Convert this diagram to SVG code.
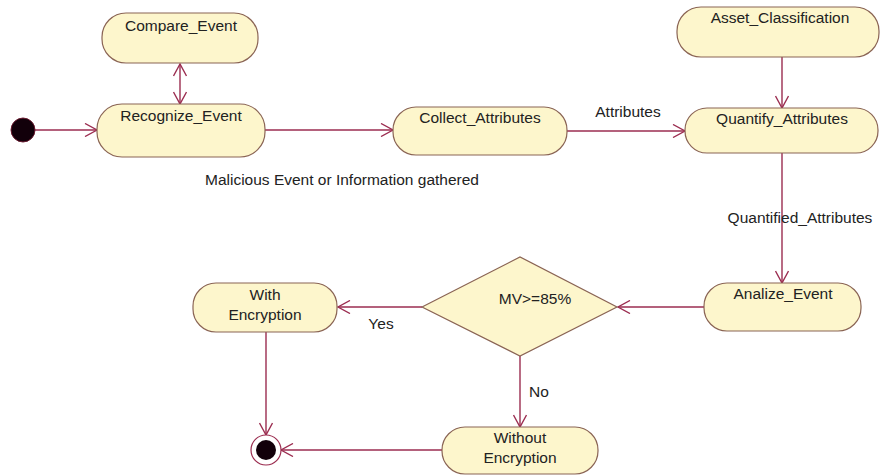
<svg xmlns="http://www.w3.org/2000/svg" width="880" height="475" viewBox="0 0 880 475">
<defs>
<style>
.node{fill:#fdf6cc;stroke:#8a6454;stroke-width:1.2}
.lbl{font-family:"Liberation Sans",Arial,sans-serif;font-size:15.5px;fill:#222;text-anchor:middle}
.edge{stroke:#9b2d50;stroke-width:1.4;fill:none}
</style>
<marker id="arr" markerWidth="14" markerHeight="14" refX="13" refY="7" orient="auto" markerUnits="userSpaceOnUse">
<path d="M1,0.5 L13,7 L1,13.5" fill="none" stroke="#9b2d50" stroke-width="1.4"/>
</marker>
<marker id="arrS" markerWidth="14" markerHeight="14" refX="13" refY="7" orient="auto-start-reverse" markerUnits="userSpaceOnUse">
<path d="M1,0.5 L13,7 L1,13.5" fill="none" stroke="#9b2d50" stroke-width="1.4"/>
</marker>
</defs>
<rect width="880" height="475" fill="#ffffff"/>
<g id="connectors">
<line class="edge" x1="35" y1="130" x2="97" y2="130" marker-end="url(#arr)"/>
<line class="edge" x1="180" y1="64" x2="180" y2="104" marker-start="url(#arrS)" marker-end="url(#arr)"/>
<line class="edge" x1="265" y1="130" x2="393" y2="130" marker-end="url(#arr)"/>
<line class="edge" x1="567" y1="131" x2="685" y2="131" marker-end="url(#arr)"/>
<line class="edge" x1="782" y1="57" x2="782" y2="108" marker-end="url(#arr)"/>
<line class="edge" x1="782" y1="153" x2="782" y2="283" marker-end="url(#arr)"/>
<line class="edge" x1="704" y1="307" x2="618" y2="307" marker-end="url(#arr)"/>
<line class="edge" x1="422" y1="307" x2="338" y2="307" marker-end="url(#arr)"/>
<line class="edge" x1="266" y1="332" x2="266" y2="435" marker-end="url(#arr)"/>
<line class="edge" x1="520" y1="356" x2="520" y2="427" marker-end="url(#arr)"/>
<line class="edge" x1="442" y1="450" x2="281" y2="450" marker-end="url(#arr)"/>
<text class="lbl" x="342" y="185">Malicious Event or Information gathered</text>
<text class="lbl" x="628" y="117">Attributes</text>
<text class="lbl" x="800" y="223">Quantified_Attributes</text>
<text class="lbl" x="381" y="329">Yes</text>
<text class="lbl" x="539" y="397">No</text>
</g>
<g id="initial">
<circle cx="23" cy="130" r="12" fill="#12000a" stroke="#6a1a30" stroke-width="1"/>
</g>
<g id="compare_event">
<rect class="node" x="102" y="13" width="156" height="50" rx="24" ry="24"/>
<text class="lbl" x="181" y="31">Compare_Event</text>
</g>
<g id="recognize_event">
<rect class="node" x="97" y="104" width="168" height="53" rx="25" ry="25"/>
<text class="lbl" x="181" y="121">Recognize_Event</text>
</g>
<g id="collect_attributes">
<rect class="node" x="393" y="107" width="174" height="48" rx="23" ry="23"/>
<text class="lbl" x="480" y="123">Collect_Attributes</text>
</g>
<g id="asset_classification">
<rect class="node" x="677" y="7" width="202" height="50" rx="24" ry="24"/>
<text class="lbl" x="780" y="23">Asset_Classification</text>
</g>
<g id="quantify_attributes">
<rect class="node" x="685" y="108" width="193" height="45" rx="22" ry="22"/>
<text class="lbl" x="782" y="124">Quantify_Attributes</text>
</g>
<g id="analize_event">
<rect class="node" x="704" y="283" width="157" height="48" rx="23" ry="23"/>
<text class="lbl" x="783" y="299">Analize_Event</text>
</g>
<g id="decision">
<polygon class="node" points="422,307 520,257 617,307 520,356"/>
<text class="lbl" x="535" y="304">MV&gt;=85%</text>
</g>
<g id="with_encryption">
<rect class="node" x="193" y="283" width="144" height="49" rx="23" ry="23"/>
<text class="lbl" x="265" y="300">With</text>
<text class="lbl" x="265" y="320">Encryption</text>
</g>
<g id="without_encryption">
<rect class="node" x="442" y="427" width="156" height="47" rx="23" ry="23"/>
<text class="lbl" x="520" y="443">Without</text>
<text class="lbl" x="520" y="463">Encryption</text>
</g>
<g id="final">
<circle cx="266" cy="450" r="15" fill="#ffffff" stroke="#9b2d50" stroke-width="1.2"/>
<circle cx="266" cy="450" r="10" fill="#12000a"/>
</g>
</svg>
